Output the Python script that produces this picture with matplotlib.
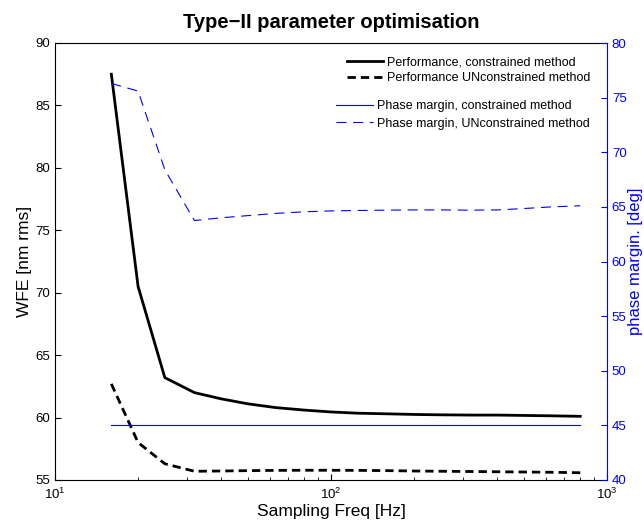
import numpy as np
import matplotlib
matplotlib.use("Agg")
import matplotlib.pyplot as plt

plt.rcParams['font.family'] = ['Liberation Sans', 'DejaVu Sans']
plt.rcParams['mathtext.fontset'] = 'custom'
plt.rcParams['mathtext.rm'] = 'Liberation Sans'

# sampling frequencies [Hz]
freq = [16, 20, 25, 32, 40, 50, 63, 80, 100, 125, 160, 200, 250, 320, 400, 500, 630, 800]

# WFE [nm rms]
wfe_con = [87.5, 70.5, 63.2, 62.0, 61.5, 61.1, 60.8, 60.6, 60.45, 60.35,
           60.3, 60.25, 60.22, 60.2, 60.2, 60.17, 60.14, 60.1]
wfe_uncon = [62.7, 58.0, 56.3, 55.7, 55.72, 55.75, 55.77, 55.78, 55.78, 55.77,
             55.75, 55.72, 55.7, 55.68, 55.66, 55.64, 55.62, 55.58]

# phase margin [deg]
pm_con = [45] * len(freq)
pm_uncon = [76.3, 75.6, 68.4, 63.75, 64.0, 64.2, 64.4, 64.55, 64.63, 64.67,
            64.7, 64.72, 64.72, 64.7, 64.72, 64.85, 65.0, 65.1]

blue = (0, 0, 1)

fig = plt.figure(figsize=(6.44, 5.22), dpi=100)
ax1 = fig.add_axes([55 / 644, 42 / 522, 552 / 644, 437 / 522])
ax2 = ax1.twinx()

l1, = ax1.semilogx(freq, wfe_con, color='k', lw=2)
l2, = ax1.semilogx(freq, wfe_uncon, color='k', lw=2, ls=(0, (3, 1.8)))
l3, = ax2.semilogx(freq, pm_con, color=blue, lw=0.8)
l4, = ax2.semilogx(freq, pm_uncon, color=blue, lw=0.8, ls=(0, (9, 6)))

ax1.set_xlim(10, 1000)
ax1.set_ylim(55, 90)
ax2.set_ylim(40, 80)
ax1.set_yticks(np.arange(55, 91, 5))
ax2.set_yticks(np.arange(40, 81, 5))
ax1.set_xticks([10, 100, 1000])
ax1.set_xticklabels([r'$10^{1}$', r'$10^{2}$', r'$10^{3}$'])

ax1.tick_params(axis='both', which='both', direction='in', labelsize=9.5)
ax1.tick_params(axis='both', which='major', length=4)
ax1.tick_params(axis='x', which='minor', length=2.5)
ax1.tick_params(axis='x', pad=5)
ax2.tick_params(axis='y', direction='in', length=4, colors=blue, labelsize=9.5)

ax1.spines['right'].set_visible(False)
ax2.spines['right'].set_color(blue)
for s in ['left', 'top', 'bottom']:
    ax2.spines[s].set_visible(False)

ax1.set_xlabel('Sampling Freq [Hz]', fontsize=12.5, labelpad=1)
ax1.set_ylabel('WFE [nm rms]', fontsize=12.5, labelpad=2.5)
ax2.set_ylabel('phase margin. [deg]', fontsize=12, color=blue, labelpad=1)
ax1.set_title('Type\u2212II parameter optimisation', fontsize=14.5, fontweight='bold', pad=11)

leg1 = ax2.legend([l1, l2], ['Performance, constrained method', 'Performance UNconstrained method'],
                  loc='upper right', bbox_to_anchor=(597 / 644, 1 - 50 / 522),
                  bbox_transform=fig.transFigure, frameon=False, fontsize=9,
                  handlelength=2.9, handletextpad=0.32, labelspacing=0.3, borderpad=0)
ax2.add_artist(leg1)
ax2.legend([l3, l4], ['Phase margin, constrained method', 'Phase margin, UNconstrained method'],
           loc='upper right', bbox_to_anchor=(596 / 644, 1 - 94 / 522),
           bbox_transform=fig.transFigure, frameon=False, fontsize=9,
           handlelength=3.0, handletextpad=0.32, labelspacing=0.42, borderpad=0)

fig.savefig('out.png', dpi=100)
